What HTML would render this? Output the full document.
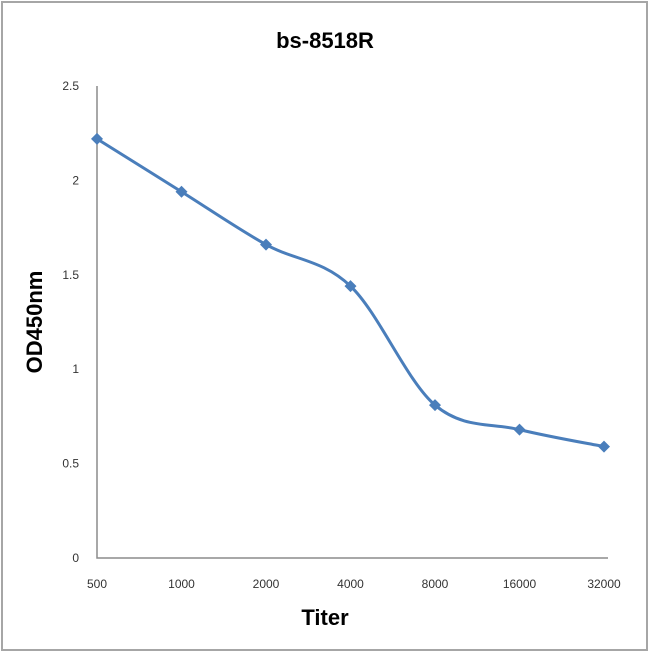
<!DOCTYPE html>
<html><head><meta charset="utf-8"><style>
body{margin:0;background:#fff;}
svg{display:block;font-family:"Liberation Sans",sans-serif;}
</style></head><body>
<svg id="c" width="650" height="653">
<rect x="2" y="2" width="645" height="648" fill="#fff" stroke="#a6a6a6" stroke-width="2"/>
<text x="325" y="48" text-anchor="middle" font-size="22" font-weight="bold" fill="#000">bs-8518R</text>
<text x="325" y="625" text-anchor="middle" font-size="22" font-weight="bold" fill="#000">Titer</text>
<text transform="translate(42,322) rotate(-90)" text-anchor="middle" font-size="22" font-weight="bold" fill="#000">OD450nm</text>
<g id="g"></g>
</svg>
<script>
const categories=["500","1000","2000","4000","8000","16000","32000"];
const values=[2.22,1.94,1.66,1.44,0.81,0.68,0.59];
const yTicks=[0,0.5,1,1.5,2,2.5];
const NS="http://www.w3.org/2000/svg";
const g=document.getElementById('g');
const x0=97,x1=604,y0=558,yTop=86,yMax=2.5;
const xs=i=>x0+i*(x1-x0)/(categories.length-1);
const ys=v=>y0-v/yMax*(y0-yTop);
function mk(t,a){const e=document.createElementNS(NS,t);for(const k in a)e.setAttribute(k,a[k]);g.appendChild(e);return e;}
let ax=mk('path',{d:`M${x0},${yTop}V${y0}H${x1+4}`,fill:'none',stroke:'#8c8c8c','stroke-width':1.5});


yTicks.forEach(t=>{const e=mk('text',{x:x0-18,y:ys(t)+4,'text-anchor':'end','font-size':12,fill:'#333'});e.textContent=t;

});
categories.forEach((c,i)=>{const e=mk('text',{x:xs(i),y:y0+30,'text-anchor':'middle','font-size':12,fill:'#333'});e.textContent=c;

});
const P=values.map((v,i)=>[xs(i),ys(v)]);
let d=`M${P[0][0]},${P[0][1]}`;
const t=1/6;
for(let i=0;i<P.length-1;i++){const p0=P[Math.max(i-1,0)],p1=P[i],p2=P[i+1],p3=P[Math.min(i+2,P.length-1)];
d+=`C${p1[0]+(p2[0]-p0[0])*t},${p1[1]+(p2[1]-p0[1])*t} ${p2[0]-(p3[0]-p1[0])*t},${p2[1]-(p3[1]-p1[1])*t} ${p2[0]},${p2[1]}`;}
const line=mk('path',{d:d,fill:'none',stroke:'#4a7ebb','stroke-width':3});


P.forEach(p=>{const m=mk('path',{d:`M${p[0]},${p[1]-6}L${p[0]+6},${p[1]}L${p[0]},${p[1]+6}L${p[0]-6},${p[1]}Z`,fill:'#4a7ebb'});

});
</script>
</body></html>
